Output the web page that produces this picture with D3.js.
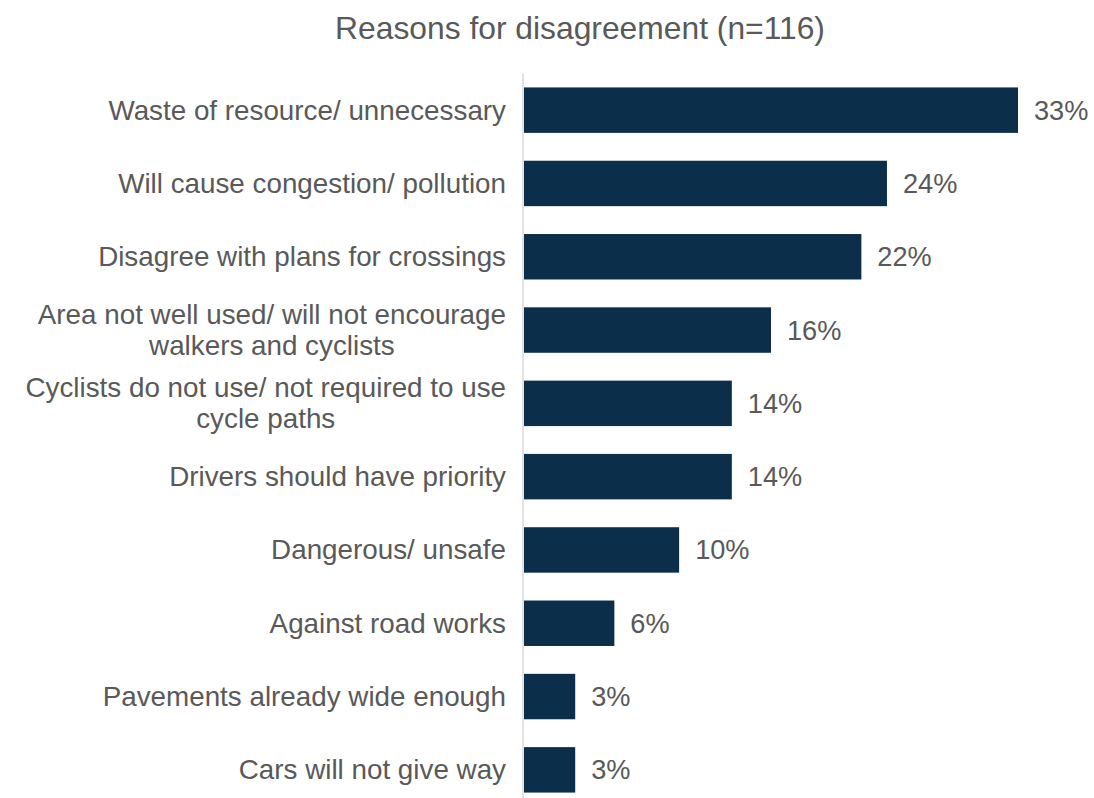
<!DOCTYPE html>
<html>
<head>
<meta charset="utf-8">
<script src="https://cdn.jsdelivr.net/npm/d3@7"></script>
<style>
  body { margin: 0; background: #fff; }
  svg text { font-family: "Liberation Sans", Arial, sans-serif; fill: #595959; }
</style>
</head>
<body>
<div id="chart"></div>
<script>
'use strict';

// categories, top to bottom (each entry is the lines of the label)
let categories = [
    ["Waste of resource/ unnecessary"],
    ["Will cause congestion/ pollution"],
    ["Disagree with plans for crossings"],
    ["Area not well used/ will not encourage", "walkers and cyclists"],
    ["Cyclists do not use/ not required to use", "cycle paths"],
    ["Drivers should have priority"],
    ["Dangerous/ unsafe"],
    ["Against road works"],
    ["Pavements already wide enough"],
    ["Cars will not give way"]
];

// percent of respondents (n=116)
let values = [32.8, 24.1, 22.4, 16.4, 13.8, 13.8, 10.3, 6.0, 3.4, 3.4];
let value_labels = ["33%", "24%", "22%", "16%", "14%", "14%", "10%", "6%", "3%", "3%"];

let title = "Reasons for disagreement (n=116)";

let width = 1094, height = 798;
let x0 = 523, label_right = 506;

let svg = d3.select("#chart")
    .append("svg")
    .attr("width", width)
    .attr("height", height);

let y = d3.scaleBand()
    .domain(d3.range(categories.length))
    .range([73.5, 806.5])
    .paddingInner(0.38)
    .paddingOuter(0.19);

let x = d3.scaleLinear()
    .domain([0, 32.8])
    .range([x0 + 1, 1018]);

svg.append("text")
    .attr("x", 580)
    .attr("y", 39)
    .attr("text-anchor", "middle")
    .style("font-size", "31.8px")
    .text(title);

svg.append("g")
    .selectAll("rect")
    .data(values)
    .enter().append("rect")
    .attr("x", x(0))
    .attr("y", function(d, i) { return y(i); })
    .attr("width", function(d) { return x(d) - x(0); })
    .attr("height", y.bandwidth())
    .attr("fill", "#0b2f4a");

// axis line
svg.append("line")
    .attr("x1", x0).attr("x2", x0)
    .attr("y1", 73.5).attr("y2", height)
    .attr("stroke", "#d9d9d9")
    .attr("stroke-width", 1.5);

svg.append("g")
    .selectAll("text")
    .data(values)
    .enter().append("text")
    .attr("x", function(d) { return x(d) + 16; })
    .attr("y", function(d, i) { return y(i) + y.bandwidth() / 2; })
    .attr("dy", "0.35em")
    .style("font-size", "27.2px")
    .text(function(d, i) { return value_labels[i]; });

let cat = svg.append("g")
    .selectAll("text")
    .data(categories)
    .enter().append("text")
    .attr("text-anchor", "middle")
    .style("font-size", "27.8px")
    .attr("y", function(d, i) { return y(i) + y.bandwidth() / 2; });

// wrapped labels are centred as a block, block right-aligned to the axis
cat.each(function(lines) {
    let t = d3.select(this);
    let lh = 31;
    let start = -(lines.length - 1) * lh / 2;
    let spans = lines.map(function(l, k) {
        return t.append("tspan")
            .attr("dy", k == 0 ? (start + 9.5) + "px" : lh + "px")
            .text(l);
    });
    let w = d3.max(spans, function(s) { return s.node().getComputedTextLength(); });
    spans.forEach(function(s) { s.attr("x", label_right - w / 2); });
});
</script>
</body>
</html>
